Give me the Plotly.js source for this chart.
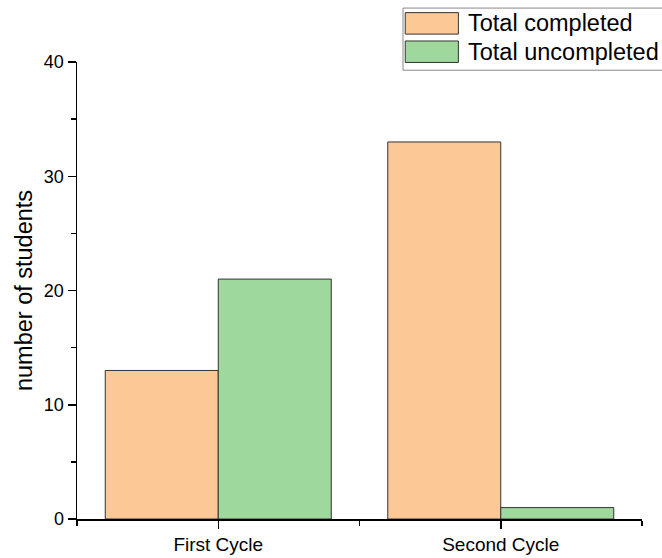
<!DOCTYPE html>
<html>
<head>
<meta charset="utf-8">
<script src="https://cdn.plot.ly/plotly-3.0.1.min.js"></script>
<style>html,body{margin:0;padding:0;background:#fff;}#chart{width:662px;height:558px;}</style>
</head>
<body>
<div id="chart"></div>
<script>
const categories = ["First Cycle", "Second Cycle"];
const seriesNames = ["Total completed", "Total uncompleted"];
const completed = [13, 33];
const uncompleted = [21, 1];
const colors = ["#FCC896", "#9ED89C"];
const yTicks = [0, 10, 20, 30, 40];

const xIdx = categories.map((_, i) => i);
const FONT = "Liberation Sans, Arial, sans-serif";

const traces = [completed, uncompleted].map((vals, k) => ({
  type: "bar",
  name: seriesNames[k],
  x: xIdx,
  y: vals,
  marker: {color: colors[k], line: {color: "#333333", width: 1}},
  showlegend: false,
  hoverinfo: "skip"
}));

// custom legend (large swatches like the reference)
const shapes = [{
  type: "rect", xref: "paper", yref: "paper",
  x0: 0.577, x1: 1.04, y0: 0.982, y1: 1.118,
  line: {color: "#888888", width: 1}, fillcolor: "#ffffff", layer: "above"
}];
const annotations = [];
seriesNames.forEach((n, k) => {
  const yTop = 1.108 - k * 0.062;
  shapes.push({
    type: "rect", xref: "paper", yref: "paper",
    x0: 0.581, x1: 0.675, y0: yTop - 0.047, y1: yTop,
    line: {color: "#333333", width: 1}, fillcolor: colors[k], layer: "above"
  });
  annotations.push({
    xref: "paper", yref: "paper", x: 0.688, y: yTop - 0.0235,
    xanchor: "left", yanchor: "middle", showarrow: false,
    text: n, font: {family: FONT, size: 23.5, color: "#000"}
  });
});

const layout = {
  width: 662, height: 558,
  margin: {l: 77, r: 20, t: 62, b: 39, pad: 0},
  paper_bgcolor: "#fff", plot_bgcolor: "#fff",
  barmode: "group", bargap: 0.2, bargroupgap: 0,
  font: {family: FONT, color: "#000"},
  xaxis: {
    range: [-0.5, 1.5], tickvals: xIdx, ticktext: categories,
    showline: true, linecolor: "#000", linewidth: 1.5, mirror: false,
    ticks: "outside", ticklen: 8, tickwidth: 1.5, tickcolor: "#000",
    minor: {tick0: 0.5, dtick: 1, ticks: "outside", ticklen: 5, tickwidth: 1.5, tickcolor: "#000", showgrid: false},
    showgrid: false, zeroline: false, fixedrange: true,
    tickfont: {family: FONT, size: 19, color: "#000"}
  },
  yaxis: {
    range: [0, 40], tickvals: yTicks,
    showline: true, linecolor: "#000", linewidth: 1.5,
    ticks: "outside", ticklen: 8, tickwidth: 1.5, tickcolor: "#000",
    minor: {dtick: 5, ticks: "outside", ticklen: 5, tickwidth: 1.5, tickcolor: "#000", showgrid: false},
    showgrid: false, zeroline: false, fixedrange: true,
    tickfont: {family: FONT, size: 18, color: "#000"},
    title: {text: "number of students", font: {family: FONT, size: 23.5, color: "#000"}, standoff: 4}
  },
  shapes: shapes,
  annotations: annotations
};

Plotly.newPlot("chart", traces, layout, {displayModeBar: false, staticPlot: true});
</script>
</body>
</html>
